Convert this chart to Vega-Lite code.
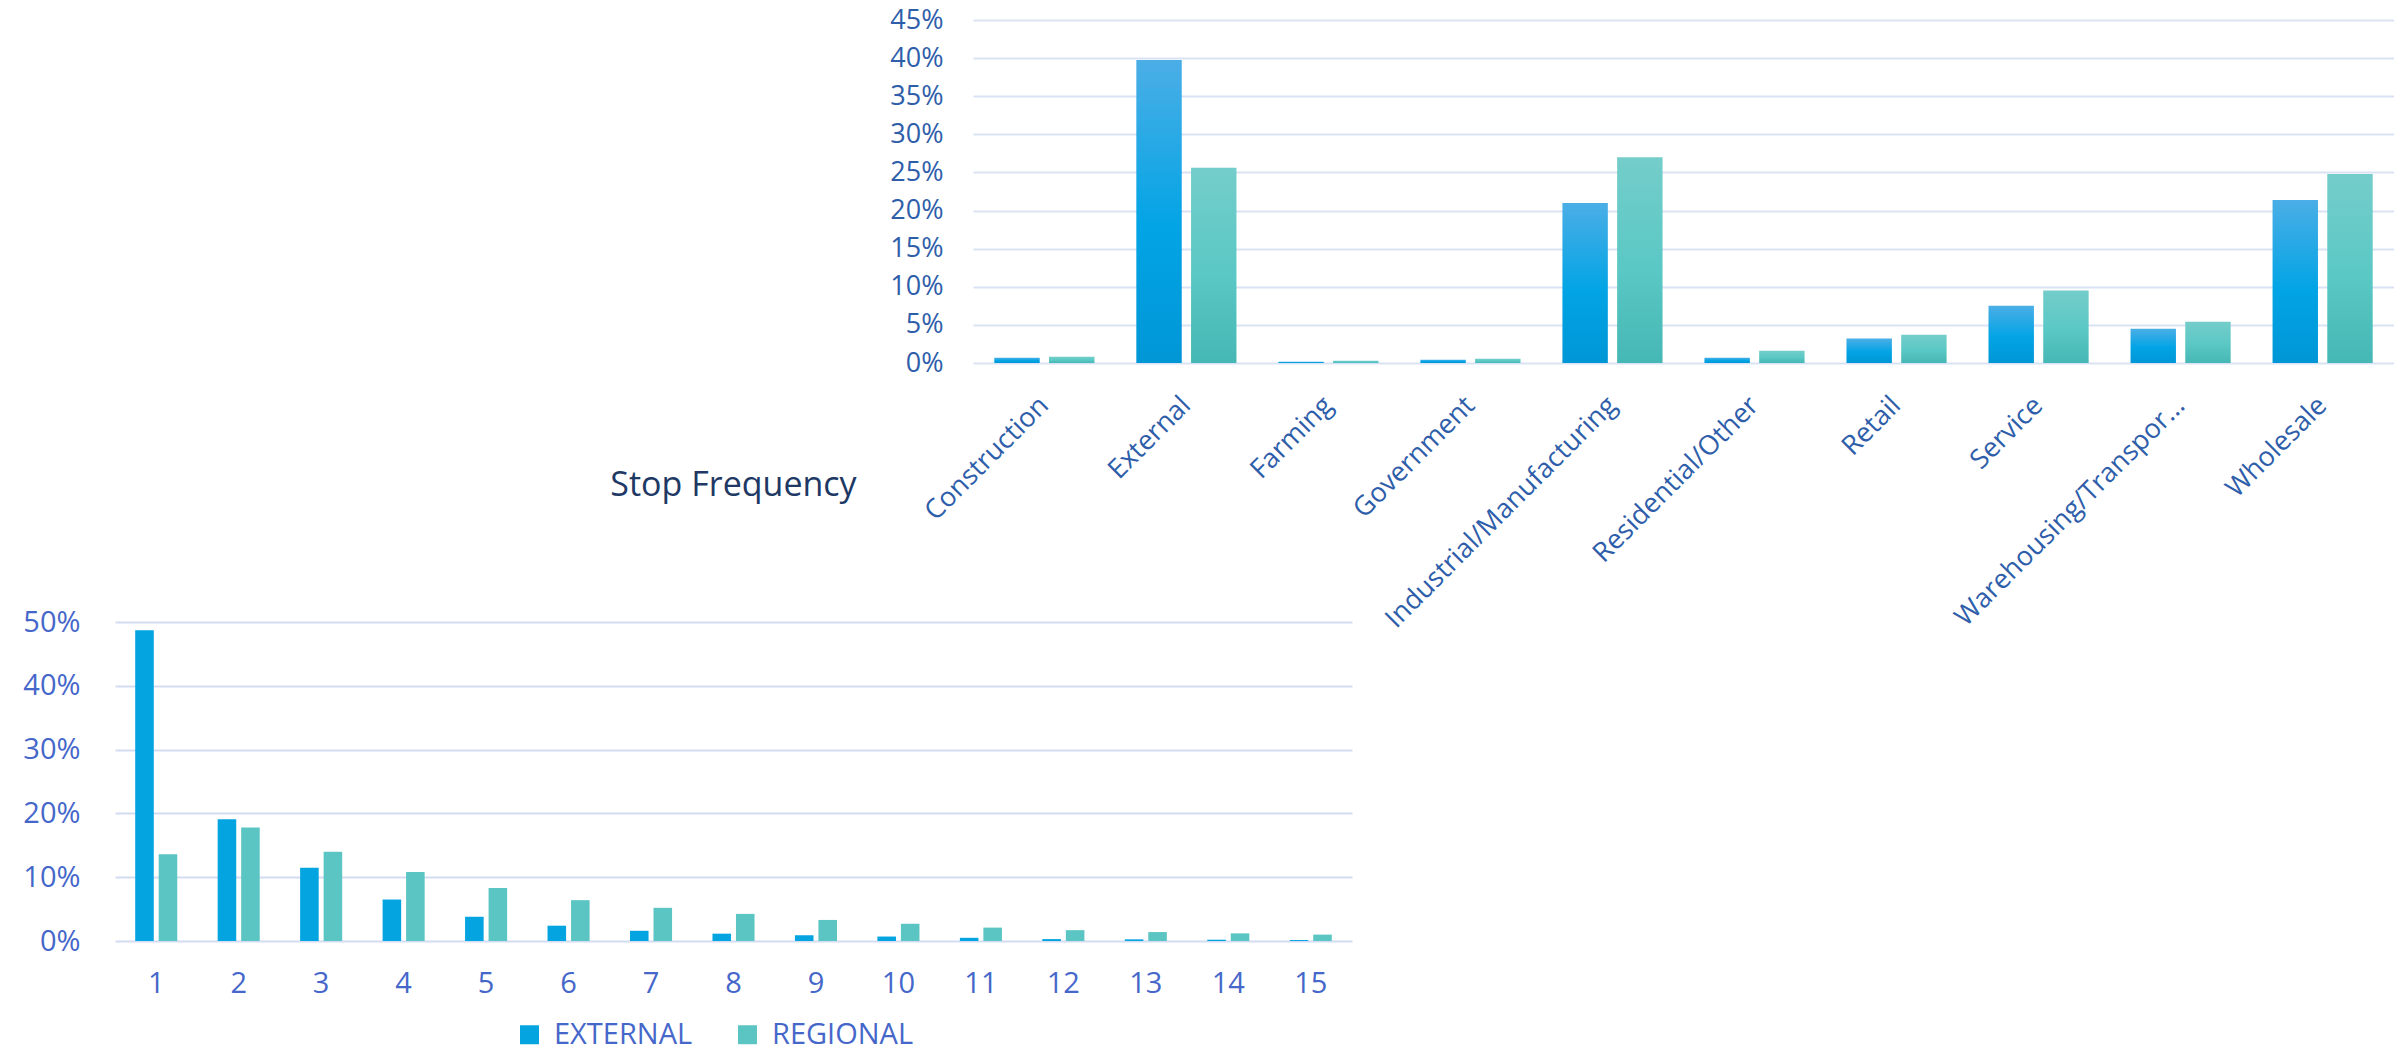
{
  "$schema": "https://vega.github.io/schema/vega-lite/v6.json",
  "padding": {"left": 22, "top": 6, "right": 0, "bottom": 30},
  "background": "white",
  "config": {"view": {"stroke": null}, "font": "Open Sans"},
  "resolve": {"scale": {"xOffset": "independent", "color": "independent"}, "legend": {"color": "independent"}},
  "datasets": {
    "industry": [
      {"type": "Construction", "series": "EXTERNAL", "pct": 0.007},
      {"type": "Construction", "series": "REGIONAL", "pct": 0.0083},
      {"type": "External", "series": "EXTERNAL", "pct": 0.3975},
      {"type": "External", "series": "REGIONAL", "pct": 0.256},
      {"type": "Farming", "series": "EXTERNAL", "pct": 0.0017},
      {"type": "Farming", "series": "REGIONAL", "pct": 0.003},
      {"type": "Government", "series": "EXTERNAL", "pct": 0.0044},
      {"type": "Government", "series": "REGIONAL", "pct": 0.0057},
      {"type": "Industrial/Manufacturing", "series": "EXTERNAL", "pct": 0.21},
      {"type": "Industrial/Manufacturing", "series": "REGIONAL", "pct": 0.27},
      {"type": "Residential/Other", "series": "EXTERNAL", "pct": 0.007},
      {"type": "Residential/Other", "series": "REGIONAL", "pct": 0.016},
      {"type": "Retail", "series": "EXTERNAL", "pct": 0.032},
      {"type": "Retail", "series": "REGIONAL", "pct": 0.037},
      {"type": "Service", "series": "EXTERNAL", "pct": 0.075},
      {"type": "Service", "series": "REGIONAL", "pct": 0.095},
      {"type": "Warehousing/Transportation", "series": "EXTERNAL", "pct": 0.045},
      {"type": "Warehousing/Transportation", "series": "REGIONAL", "pct": 0.054},
      {"type": "Wholesale", "series": "EXTERNAL", "pct": 0.214},
      {"type": "Wholesale", "series": "REGIONAL", "pct": 0.248}
    ],
    "stops": [
      {"stops": 1, "series": "EXTERNAL", "pct": 0.487},
      {"stops": 1, "series": "REGIONAL", "pct": 0.136},
      {"stops": 2, "series": "EXTERNAL", "pct": 0.191},
      {"stops": 2, "series": "REGIONAL", "pct": 0.178},
      {"stops": 3, "series": "EXTERNAL", "pct": 0.115},
      {"stops": 3, "series": "REGIONAL", "pct": 0.140},
      {"stops": 4, "series": "EXTERNAL", "pct": 0.065},
      {"stops": 4, "series": "REGIONAL", "pct": 0.108},
      {"stops": 5, "series": "EXTERNAL", "pct": 0.038},
      {"stops": 5, "series": "REGIONAL", "pct": 0.083},
      {"stops": 6, "series": "EXTERNAL", "pct": 0.024},
      {"stops": 6, "series": "REGIONAL", "pct": 0.064},
      {"stops": 7, "series": "EXTERNAL", "pct": 0.016},
      {"stops": 7, "series": "REGIONAL", "pct": 0.052},
      {"stops": 8, "series": "EXTERNAL", "pct": 0.0115},
      {"stops": 8, "series": "REGIONAL", "pct": 0.0425},
      {"stops": 9, "series": "EXTERNAL", "pct": 0.009},
      {"stops": 9, "series": "REGIONAL", "pct": 0.033},
      {"stops": 10, "series": "EXTERNAL", "pct": 0.007},
      {"stops": 10, "series": "REGIONAL", "pct": 0.027},
      {"stops": 11, "series": "EXTERNAL", "pct": 0.005},
      {"stops": 11, "series": "REGIONAL", "pct": 0.021},
      {"stops": 12, "series": "EXTERNAL", "pct": 0.003},
      {"stops": 12, "series": "REGIONAL", "pct": 0.017},
      {"stops": 13, "series": "EXTERNAL", "pct": 0.0026},
      {"stops": 13, "series": "REGIONAL", "pct": 0.014},
      {"stops": 14, "series": "EXTERNAL", "pct": 0.002},
      {"stops": 14, "series": "REGIONAL", "pct": 0.012},
      {"stops": 15, "series": "EXTERNAL", "pct": 0.0015},
      {"stops": 15, "series": "REGIONAL", "pct": 0.010}
    ]
  },
  "bounds": "flush",
  "spacing": 602,
  "vconcat": [
    {
      "bounds": "flush",
      "spacing": 0,
      "resolve": {"scale": {"xOffset": "independent"}},
      "hconcat": [
        {
          "width": 858,
          "height": 343,
          "data": {"values": [{"k": 0}]},
          "mark": {"type": "point", "opacity": 0},
          "encoding": {}
        },
        {
          "width": 1421,
          "height": 343,
          "data": {"name": "industry"},
          "mark": {"type": "bar"},
          "encoding": {
            "x": {
              "field": "type",
              "type": "nominal",
              "sort": null,
              "scale": {"paddingInner": 0.295, "paddingOuter": 0.15},
              "axis": {
                "title": null,
                "labelAngle": -45,
                "labelAlign": "right",
                "labelBaseline": "middle",
                "labelPadding": 38,
                "labelFontSize": 27,
                "labelColor": "#2E5EAA",
                "labelLimit": 500,
                "ticks": false,
                "domain": false,
                "labelExpr": "datum.label === 'Warehousing/Transportation' ? 'Warehousing/Transpor...' : datum.label"
              }
            },
            "xOffset": {
              "field": "series",
              "type": "nominal",
              "sort": ["EXTERNAL", "REGIONAL"],
              "scale": {"paddingInner": 0.17}
            },
            "y": {
              "field": "pct",
              "type": "quantitative",
              "scale": {"domain": [0, 0.45], "nice": false},
              "axis": {
                "title": null,
                "values": [0, 0.05, 0.1, 0.15, 0.2, 0.25, 0.3, 0.35, 0.4, 0.45],
                "format": ".0%",
                "grid": true,
                "gridColor": "#DAE3F3",
                "gridWidth": 2,
                "domain": false,
                "ticks": false,
                "labelPadding": 30,
                "labelFontSize": 27,
                "labelColor": "#2E5EAA"
              }
            },
            "color": {
              "condition": {
                "test": "datum.series === 'EXTERNAL'",
                "value": {
                  "gradient": "linear", "x1": 0, "y1": 0, "x2": 0, "y2": 1,
                  "stops": [
                    {"offset": 0, "color": "#4BAEE6"},
                    {"offset": 0.55, "color": "#02A4E5"},
                    {"offset": 1, "color": "#0096D6"}
                  ]
                }
              },
              "value": {
                "gradient": "linear", "x1": 0, "y1": 0, "x2": 0, "y2": 1,
                "stops": [
                  {"offset": 0, "color": "#74CDCA"},
                  {"offset": 0.55, "color": "#5AC8C5"},
                  {"offset": 1, "color": "#45B7B4"}
                ]
              }
            }
          }
        }
      ]
    },
    {
      "width": 1237,
      "height": 319,
      "data": {"name": "stops"},
      "title": {
        "text": "Stop Frequency",
        "fontSize": 34,
        "fontWeight": "normal",
        "color": "#203864",
        "anchor": "middle",
        "offset": 105
      },
      "mark": {"type": "bar"},
      "encoding": {
        "x": {
          "field": "stops",
          "type": "ordinal",
          "scale": {"paddingInner": 0.49, "paddingOuter": 0.245},
          "axis": {
            "title": null,
            "labelAngle": 0,
            "labelPadding": 28,
            "labelFontSize": 29,
            "labelColor": "#4667CA",
            "ticks": false,
            "domain": false
          }
        },
        "xOffset": {
          "field": "series",
          "type": "nominal",
          "sort": ["EXTERNAL", "REGIONAL"],
          "scale": {"paddingInner": 0.21}
        },
        "y": {
          "field": "pct",
          "type": "quantitative",
          "scale": {"domain": [0, 0.5], "nice": false},
          "axis": {
            "title": null,
            "values": [0, 0.1, 0.2, 0.3, 0.4, 0.5],
            "format": ".0%",
            "grid": true,
            "gridColor": "#D3DCF2",
            "gridWidth": 2,
            "domain": false,
            "ticks": false,
            "labelPadding": 35,
            "labelFontSize": 29,
            "labelColor": "#4667CA"
          }
        },
        "color": {
          "field": "series",
          "type": "nominal",
          "scale": {"domain": ["EXTERNAL", "REGIONAL"], "range": ["#03A4E0", "#5BC5C3"]},
          "legend": {
            "title": null,
            "orient": "none",
            "direction": "horizontal",
            "legendX": 400,
            "legendY": 398,
            "symbolType": "square",
            "symbolSize": 361,
            "symbolStrokeWidth": 0,
            "labelFontSize": 29,
            "labelColor": "#4667CA",
            "labelOffset": 10,
            "columnPadding": 40
          }
        }
      }
    }
  ]
}
